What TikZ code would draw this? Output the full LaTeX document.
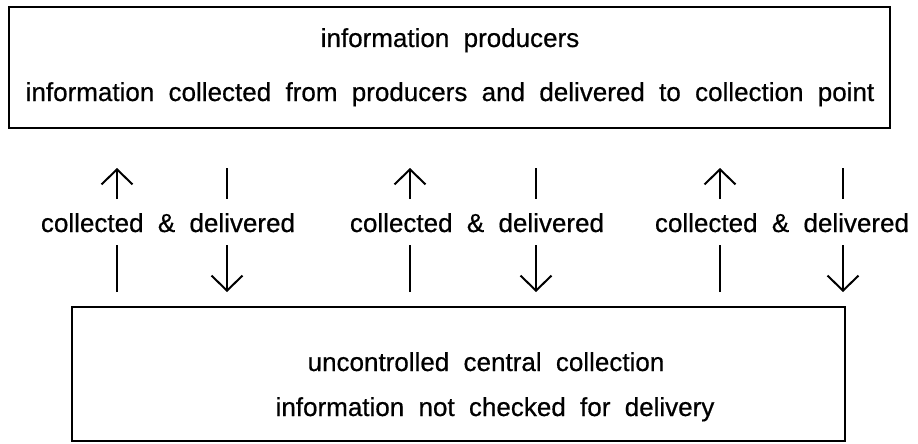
\documentclass[tikz,border=0pt]{standalone}
\usepackage{fontspec}
\setmainfont{Liberation Sans}
\newfontfamily\inkfont{Liberation Sans}[FakeBold=0.6]
\usetikzlibrary{arrows.meta}
\newcommand\widewords{\inkfont\fontsize{26}{31}\selectfont\spaceskip=0.55em\relax}
\begin{document}
\begin{tikzpicture}[x=1pt,y=-1pt,
  box/.style={draw,line width=2pt},
  txt/.style={inner sep=0pt,anchor=base,font=\widewords},
  flow/.style={line width=2pt},
  head/.style={-{Straight Barb[length=15pt,width=31pt,line width=2pt]}}]
  \useasboundingbox (0,0) rectangle (918,444);
  % boxes
  \draw[box] (9,7) rectangle (890,128);
  \draw[box] (72,307) rectangle (845,441);
  \node[txt] (p1) at (450,47) {information producers};
  \node[txt] (p2) at (450,101) {information collected from producers and delivered to collection point};
  \node[txt] (c1) at (486,371) {uncontrolled central collection};
  \node[txt] (c2) at (495,416) {information not checked for delivery};
  % labels between the boxes
  \foreach \i/\cx in {1/168,2/477,3/782}{
    \node[txt] (l\i) at (\cx,232) {collected \& delivered};
  }
  % arrows: up (collected) and down (delivered)
  \foreach \i/\u/\d in {1/117/227,2/410/536,3/720/843}{
    \coordinate (ua\i) at (\u,292);
    \coordinate (ub\i) at (\u,245);
    \coordinate (uc\i) at (\u,199);
    \coordinate (ud\i) at (\u,168);
    \coordinate (da\i) at (\d,168);
    \coordinate (db\i) at (\d,199);
    \coordinate (dc\i) at (\d,245);
    \coordinate (dd\i) at (\d,292);
    \draw[flow] (ua\i) -- (ub\i);
    \draw[flow,head] (uc\i) -- (ud\i);
    \draw[flow] (da\i) -- (db\i);
    \draw[flow,head] (dc\i) -- (dd\i);
  }
\end{tikzpicture}
\end{document}
